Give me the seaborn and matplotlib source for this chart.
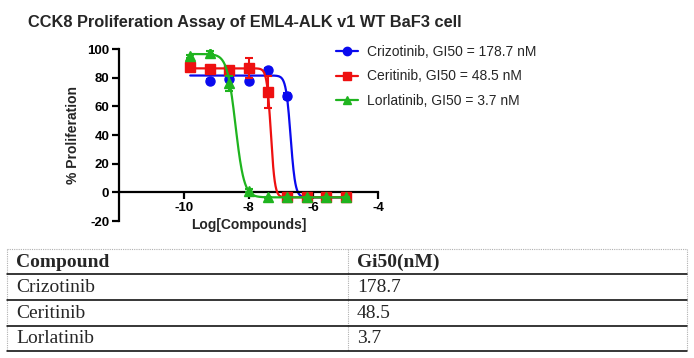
import numpy as np
import pandas as pd
import matplotlib
matplotlib.use("Agg")
import matplotlib.pyplot as plt
from matplotlib.lines import Line2D
import seaborn as sns

# data
log_conc = [-9.8, -9.2, -8.6, -8.0, -7.4, -6.8, -6.2, -5.6, -5.0]
compounds = ["Crizotinib", "Ceritinib", "Lorlatinib"]
gi50_nm = ["178.7", "48.5", "3.7"]

criz_mean = [88, 78, 79, 78, 85.5, 67, -3.5, -3.5, -3.5]
criz_err = [1, 1, 1.5, 1, 1.5, 2, 0.5, 0.5, 0.5]
cer_mean = [87.5, 86, 85.5, 87, 70, -3.5, -3.5, -3.5, -3.5]
cer_err = [1.5, 2, 1, 7, 11, 0.5, 0.5, 0.5, 0.5]
lor_mean = [95, 97.5, 76, 1, -3.5, -3.5, -3.5, -3.5, -3.5]
lor_err = [1, 1, 5.5, 1, 0.5, 0.5, 0.5, 0.5, 0.5]

# 4PL fit parameters (top, bottom, logGI50, hill)
fit_top = [81.5, 86.5, 96.5]
fit_bottom = [-3.5, -3.5, -3.5]
fit_logc = [-6.70, -7.31, -8.40]
fit_hill = [6.0, 7.0, 3.3]

colors = ["#0a0aee", "#ee1010", "#1fb41f"]
markers = ["o", "s", "^"]
means = [criz_mean, cer_mean, lor_mean]
errs = [criz_err, cer_err, lor_err]

sns.set_style("ticks")
plt.rcParams["font.family"] = ["Liberation Sans", "DejaVu Sans"]
plt.rcParams["axes.unicode_minus"] = False

fig = plt.figure(figsize=(6.94, 3.58), dpi=100)
W, H = 694, 358
ax = fig.add_axes([119 / W, 1 - 221 / H, 259 / W, 172 / H])

xs = np.linspace(log_conc[0], log_conc[-1], 400)
for i, name in enumerate(compounds):
    curve = pd.DataFrame({
        "x": xs,
        "y": fit_bottom[i] + (fit_top[i] - fit_bottom[i])
        / (1 + 10 ** (fit_hill[i] * (xs - fit_logc[i]))),
    })
    sns.lineplot(data=curve, x="x", y="y", color=colors[i], lw=1.6,
                 ax=ax, zorder=2 + i * 2)
    ax.errorbar(log_conc, means[i], yerr=errs[i], fmt=markers[i],
                color=colors[i], ms=6.5 if markers[i] != "^" else 7,
                capsize=3, elinewidth=1.5, capthick=1.5, zorder=3 + i * 2)

ax.set_xlim(-12, -4)
ax.set_ylim(-20, 100)
ax.set_xticks([-10, -8, -6, -4])
ax.set_yticks([-20, 0, 20, 40, 60, 80, 100])
for s in ["top", "right"]:
    ax.spines[s].set_visible(False)
ax.spines["bottom"].set_position(("data", 0))
ax.spines["left"].set_linewidth(1.6)
ax.spines["bottom"].set_linewidth(1.6)
ax.spines["left"].set_color("black")
ax.spines["bottom"].set_color("black")
ax.tick_params(direction="out", length=5, width=1.6, colors="black",
               labelsize=9.5, pad=2)
for t in ax.get_xticklabels() + ax.get_yticklabels():
    t.set_fontweight("bold")
ax.set_xlabel("Log[Compounds]", fontsize=10, fontweight="bold", labelpad=3)
ax.set_ylabel("% Proliferation", fontsize=10, fontweight="bold", labelpad=5)

handles = [Line2D([], [], color=colors[i], marker=markers[i], lw=1.6, ms=6)
           for i in range(3)]
labels = [f"{compounds[i]}, GI50 = {gi50_nm[i]} nM" for i in range(3)]
fig.legend(handles, labels, loc="upper left", bbox_to_anchor=(336 / W, 1 - 45 / H),
           frameon=False, fontsize=10, handlelength=1.6, handletextpad=0.6,
           labelspacing=0.75, borderpad=0, borderaxespad=0)

fig.text(28 / W, 1 - 22 / H, "CCK8 Proliferation Assay of EML4-ALK v1 WT BaF3 cell",
         fontsize=11.8, fontweight="bold", va="center", ha="left")

# table below the chart
tab = fig.add_axes([0, 0, 1, 1], zorder=-1)
tab.set_xlim(0, W)
tab.set_ylim(H, 0)
tab.axis("off")
left, mid, right = 7, 348, 687
rows_y = [249, 274, 300, 326, 351]
dot = dict(color="#b0b0b0", lw=0.8, ls=(0, (1, 1)))
tab.plot([left, right], [rows_y[0], rows_y[0]], **dot)
for xv in [left, mid, right]:
    tab.plot([xv, xv], [rows_y[0], rows_y[-1]], **dot)
for yv in rows_y[1:]:
    tab.plot([left, right], [yv, yv], color="black", lw=1.1)

serif = ["Liberation Serif", "DejaVu Serif"]
tab.text(left + 9, (rows_y[0] + rows_y[1]) / 2 + 1, "Compound", family=serif,
         fontsize=14, fontweight="bold", va="center")
tab.text(mid + 9, (rows_y[0] + rows_y[1]) / 2 + 1, "Gi50(nM)", family=serif,
         fontsize=14, fontweight="bold", va="center")
for i, name in enumerate(compounds):
    yc = (rows_y[i + 1] + rows_y[i + 2]) / 2
    tab.text(left + 9, yc, name, family=serif, fontsize=14, va="center")
    tab.text(mid + 9, yc, gi50_nm[i], family=serif, fontsize=14, va="center")

fig.savefig("out.png", dpi=100)
